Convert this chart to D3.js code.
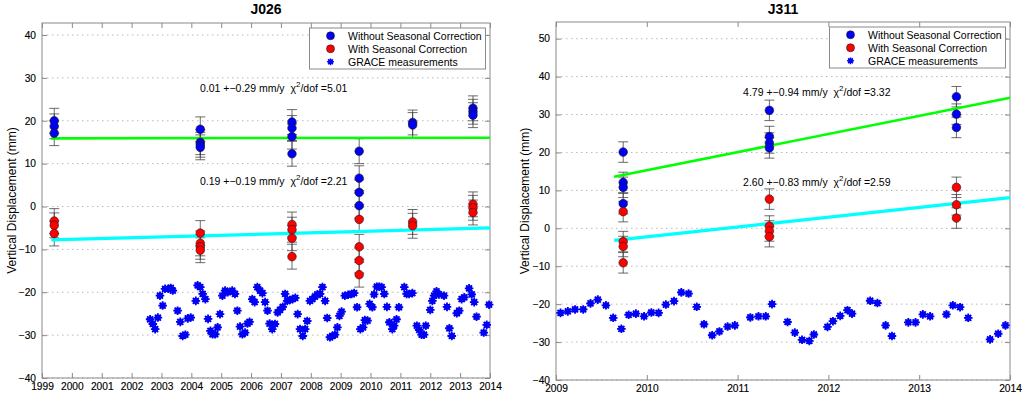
<!DOCTYPE html>
<html>
<head>
<meta charset="utf-8">
<script src="https://cdn.jsdelivr.net/npm/d3@7"></script>
<style>
body { margin: 0; background: #fff; }
svg { font-family: "Liberation Sans", Arial, Helvetica, sans-serif; }
</style>
</head>
<body>
<svg id="chart" width="1024" height="398"></svg>
<script>
// ---- data ----
var J026_EPOCHS = [1999.41, 2004.30, 2007.37, 2009.62, 2011.41, 2013.43];
var J026_WITHOUT = [[20.0, 18.7, 17.1], [18.0, 15.0, 14.4, 13.8], [19.7, 18.3, 16.3, 12.3],
					[12.9, 6.6, 3.3, 0.2], [19.6, 19.0], [22.9, 22.1, 21.3]];
var J026_WITH = [[-3.4, -4.4, -6.3], [-6.2, -8.6, -9.4, -10.2], [-4.2, -5.4, -7.4, -11.7],
				[-3.0, -9.4, -12.6, -15.9], [-3.6, -4.5], [0.5, -0.3, -1.4]];
var J026_ERR = 2.9;
var J026_FIT_WITHOUT = [[1999.31, 15.9], [2014, 16.05]];
var J026_FIT_WITH = [[1999.31, -7.8], [2014, -5.0]];
var J026_GRACE = [
	[2002.62,-26.3],[2002.71,-27.4],[2002.79,-28.6],[2002.88,-25.9],[2002.95,-20.8],[2003.04,-23.1],
	[2003.12,-19.2],[2003.23,-19.2],[2003.31,-19.0],[2003.38,-19.6],[2003.54,-24.3],[2003.63,-26.9],
	[2003.71,-30.2],[2003.80,-29.9],[2003.88,-26.1],[2003.98,-25.9],[2004.15,-22.0],[2004.21,-18.4],
	[2004.30,-18.8],[2004.38,-20.4],[2004.47,-21.6],[2004.56,-26.2],[2004.64,-29.0],[2004.71,-29.8],
	[2004.80,-29.8],[2004.88,-28.2],[2004.96,-25.1],[2005.04,-20.8],[2005.13,-19.6],[2005.22,-20.0],
	[2005.37,-19.6],[2005.46,-20.4],[2005.54,-24.3],[2005.63,-28.0],[2005.71,-29.8],[2005.80,-29.4],
	[2005.88,-27.3],[2005.95,-26.9],[2006.04,-21.6],[2006.12,-22.3],[2006.21,-18.8],[2006.30,-19.6],
	[2006.38,-20.2],[2006.47,-22.3],[2006.55,-24.3],[2006.62,-27.3],[2006.71,-28.6],[2006.80,-27.4],
	[2006.89,-24.7],[2006.97,-24.1],[2007.06,-23.4],[2007.14,-20.4],[2007.21,-22.0],[2007.30,-21.8],
	[2007.39,-21.6],[2007.48,-21.3],[2007.56,-25.1],[2007.64,-28.6],[2007.73,-30.2],[2007.81,-28.6],
	[2007.88,-26.7],[2007.97,-22.0],[2008.05,-21.6],[2008.14,-21.0],[2008.22,-20.5],[2008.31,-20.4],
	[2008.39,-18.8],[2008.48,-22.0],[2008.55,-26.0],[2008.64,-30.5],[2008.72,-30.2],[2008.81,-29.9],
	[2008.89,-28.2],[2008.96,-25.5],[2009.03,-24.5],[2009.14,-20.8],[2009.25,-20.6],[2009.37,-20.4],
	[2009.45,-20.2],[2009.55,-23.5],[2009.66,-28.6],[2009.75,-28.2],[2009.81,-26.5],[2009.90,-26.6],
	[2009.97,-22.7],[2010.06,-23.5],[2010.12,-20.5],[2010.21,-18.7],[2010.29,-18.7],[2010.37,-18.8],
	[2010.46,-20.4],[2010.55,-23.4],[2010.63,-27.0],[2010.73,-28.6],[2010.79,-27.8],[2010.87,-26.3],
	[2010.95,-23.5],[2011.13,-18.8],[2011.21,-20.4],[2011.29,-20.4],[2011.40,-20.2],[2011.55,-27.8],
	[2011.63,-28.8],[2011.71,-29.9],[2011.79,-29.9],[2011.85,-27.8],[2012.00,-24.1],[2012.07,-22.0],
	[2012.13,-20.8],[2012.21,-19.8],[2012.29,-20.5],[2012.46,-20.8],[2012.56,-23.4],[2012.64,-28.4],
	[2012.72,-30.2],[2012.89,-24.9],[2012.97,-24.3],[2013.05,-21.6],[2013.14,-21.2],[2013.30,-19.1],
	[2013.39,-20.5],[2013.47,-22.3],[2013.55,-25.7],[2013.79,-29.4],[2013.89,-27.6],[2013.97,-22.9]
];

var J311_EPOCHS = [2009.74, 2011.35, 2013.41];
var J311_WITHOUT = [[20.1, 12.1, 10.8, 6.5], [31.1, 24.2, 22.5, 21.2], [34.7, 30.1, 26.6]];
var J311_WITH = [[4.4, -3.5, -4.8, -9.1], [7.7, 0.6, -0.7, -2.2], [10.8, 6.2, 2.7]];
var J311_ERR = 2.7;
var J311_FIT_WITHOUT = [[2009.64, 13.6], [2014, 34.4]];
var J311_FIT_WITH = [[2009.64, -3.2], [2014, 8.1]];
var J311_GRACE = [
	[2009.05,-22.3],[2009.13,-21.9],[2009.21,-21.4],[2009.30,-21.4],[2009.38,-19.8],[2009.46,-18.8],
	[2009.55,-20.3],[2009.63,-23.6],[2009.72,-26.5],[2009.80,-22.8],[2009.88,-22.5],[2009.97,-23.2],
	[2010.05,-22.2],[2010.13,-22.3],[2010.21,-20.1],[2010.30,-19.2],[2010.38,-16.9],[2010.46,-17.2],
	[2010.55,-20.7],[2010.63,-25.3],[2010.72,-28.2],[2010.80,-27.2],[2010.89,-25.9],[2010.97,-25.6],
	[2011.14,-23.5],[2011.23,-23.2],[2011.31,-23.2],[2011.38,-20.0],[2011.55,-24.7],[2011.63,-27.5],
	[2011.71,-29.4],[2011.79,-29.7],[2011.84,-28.0],[2011.99,-26.0],[2012.05,-24.5],[2012.13,-23.1],
	[2012.21,-21.6],[2012.26,-22.5],[2012.46,-19.1],[2012.54,-19.7],[2012.63,-25.6],[2012.70,-28.4],
	[2012.88,-24.8],[2012.96,-24.8],[2013.04,-22.7],[2013.12,-23.2],[2013.30,-22.7],[2013.37,-20.3],
	[2013.45,-20.8],[2013.54,-23.6],[2013.78,-29.3],[2013.87,-27.8],[2013.95,-25.6]
];

var LEGEND_LABELS = ['Without Seasonal Correction', 'With Seasonal Correction', 'GRACE measurements'];
var J026_RATES = ['0.01 +\u22120.29 mm/y  \u03c7', '0.19 +\u22120.19 mm/y  \u03c7'];
var J026_CHI = ['/dof =5.01', '/dof =2.21'];
var J311_RATES = ['4.79 +\u22120.94 mm/y  \u03c7', '2.60 +\u22120.83 mm/y  \u03c7'];
var J311_CHI = ['/dof =3.32', '/dof =2.59'];

var J026_XTICKS = d3.range(1999, 2015, 1);
var J026_YTICKS = d3.range(-40, 41, 10);
var J311_XTICKS = d3.range(2009, 2015, 1);
var J311_YTICKS = d3.range(-40, 51, 10);

// ---- drawing ----
var svg = d3.select('#chart');

var BLUE = '#0000f5',
	RED = '#ff0000',
	GREEN = '#00ff00',
	CYAN = '#00ffff',
	FRAME = '#8a8a8a';

drawPanel({
	title: 'J026',
	left: 42, right: 490, top: 23, bottom: 378,
	xDomain: [1999, 2014], yDomain: [-40, 42.8],
	xTicks: J026_XTICKS, yTicks: J026_YTICKS,
	epochs: J026_EPOCHS, without: J026_WITHOUT, withCorr: J026_WITH, err: J026_ERR,
	fitWithout: J026_FIT_WITHOUT, fitWith: J026_FIT_WITH,
	grace: J026_GRACE,
	rates: J026_RATES, chi: J026_CHI,
	notePos: [[2004.29, 26.8], [2004.29, 4.9]],
	ylabelX: 16
});

drawPanel({
	title: 'J311',
	left: 556, right: 1010, top: 22, bottom: 380,
	xDomain: [2009, 2014], yDomain: [-40, 54.4],
	xTicks: J311_XTICKS, yTicks: J311_YTICKS,
	epochs: J311_EPOCHS, without: J311_WITHOUT, withCorr: J311_WITH, err: J311_ERR,
	fitWithout: J311_FIT_WITHOUT, fitWith: J311_FIT_WITH,
	grace: J311_GRACE,
	rates: J311_RATES, chi: J311_CHI,
	notePos: [[2011.06, 35.0], [2011.06, 11.1]],
	ylabelX: 529
});

function drawPanel(p) {
	var x = d3.scaleLinear().domain(p.xDomain).range([p.left, p.right]);
	var y = d3.scaleLinear().domain(p.yDomain).range([p.bottom, p.top]);
	var g = svg.append('g');

	// dotted horizontal grid
	g.append('g')
		.selectAll('line')
		.data(p.yTicks)
		.enter()
		.append('line')
		.attr('x1', p.left).attr('x2', p.right)
		.attr('y1', d => y(d)).attr('y2', d => y(d))
		.style('stroke', '#b8b8b8')
		.style('stroke-width', 1)
		.style('stroke-dasharray', '1.5,3.5');

	// axes, ticks pointing inward on all four sides
	g.append('g')
		.attr('transform', 'translate(0,' + p.bottom + ')')
		.call(d3.axisBottom(x).tickValues(p.xTicks).tickFormat(d3.format('d'))
			.tickSize(-5).tickSizeOuter(0).tickPadding(5));
	g.append('g')
		.attr('transform', 'translate(' + p.left + ',0)')
		.call(d3.axisLeft(y).tickValues(p.yTicks).tickSize(-5).tickSizeOuter(0).tickPadding(6));
	g.append('g')
		.attr('transform', 'translate(0,' + p.top + ')')
		.call(d3.axisTop(x).tickValues(p.xTicks).tickFormat('').tickSize(-5).tickSizeOuter(0));
	g.append('g')
		.attr('transform', 'translate(' + p.right + ',0)')
		.call(d3.axisRight(y).tickValues(p.yTicks).tickFormat('').tickSize(-5).tickSizeOuter(0));

	g.selectAll('.domain').remove();
	g.selectAll('.tick line').style('stroke', FRAME);
	g.selectAll('.tick text')
		.style('font-size', '10.2px')
		.style('font-family', '"Liberation Sans", Arial, sans-serif')
		.style('fill', '#000')
		.style('stroke', '#000')
		.style('stroke-width', 0.15);

	g.append('rect')
		.attr('x', p.left).attr('y', p.top)
		.attr('width', p.right - p.left).attr('height', p.bottom - p.top)
		.style('fill', 'none')
		.style('stroke', FRAME)
		.style('stroke-width', 1);

	// GRACE asterisks
	var grace = g.append('g')
		.selectAll('g')
		.data(p.grace)
		.enter()
		.append('g')
		.attr('transform', d => 'translate(' + x(d[0]) + ',' + y(d[1]) + ')');
	grace.append('circle')
		.attr('r', 3.1)
		.style('fill', BLUE);
	grace.append('path')
		.attr('d', 'M-4.3,0H4.3M0,-4.3V4.3M-3,-3L3,3M-3,3L3,-3')
		.style('stroke', BLUE)
		.style('stroke-width', 1.8);

	// flatten epochs x values into points
	function flat(series) {
		var out = [];
		series.forEach(function(vals, i) {
			vals.forEach(function(v) { out.push({ t: p.epochs[i], v: v }); });
		});
		return out;
	}
	var pts = [{ data: flat(p.without), color: BLUE }, { data: flat(p.withCorr), color: RED }];

	// error bars
	pts.forEach(function(s) {
		g.append('g')
			.selectAll('path')
			.data(s.data)
			.enter()
			.append('path')
			.attr('d', function(d) {
				var cx = x(d.t), y0 = y(d.v - p.err), y1 = y(d.v + p.err);
				return 'M' + cx + ',' + y0 + 'V' + y1 +
					'M' + (cx - 5) + ',' + y0 + 'H' + (cx + 5) +
					'M' + (cx - 5) + ',' + y1 + 'H' + (cx + 5);
			})
			.style('fill', 'none')
			.style('stroke', '#3a3a3a')
			.style('stroke-opacity', 0.75)
			.style('stroke-width', 1);
	});

	// fit lines
	var line = d3.line().x(d => x(d[0])).y(d => y(d[1]));
	g.append('path')
		.datum(p.fitWithout)
		.attr('d', line)
		.style('fill', 'none')
		.style('stroke', GREEN)
		.style('stroke-width', 2.6);
	g.append('path')
		.datum(p.fitWith)
		.attr('d', line)
		.style('fill', 'none')
		.style('stroke', CYAN)
		.style('stroke-width', 3.2);

	// station points
	pts.forEach(function(s) {
		g.append('g')
			.selectAll('circle')
			.data(s.data)
			.enter()
			.append('circle')
			.attr('cx', d => x(d.t))
			.attr('cy', d => y(d.v))
			.attr('r', 4.3)
			.style('fill', s.color)
			.style('stroke', '#1a1a1a')
			.style('stroke-width', 0.6);
	});

	// rate annotations
	p.rates.forEach(function(r, i) {
		var t = g.append('text')
			.attr('x', x(p.notePos[i][0]))
			.attr('y', y(p.notePos[i][1]))
			.style('font-size', '10.5px')
			.style('white-space', 'pre')
			.style('fill', '#000');
		t.append('tspan').text(r);
		t.append('tspan').attr('dy', -5).style('font-size', '8px').text('2');
		t.append('tspan').attr('dy', 5).text(p.chi[i]);
	});

	// title
	g.append('text')
		.attr('x', (p.left + p.right) / 2)
		.attr('y', 14)
		.attr('text-anchor', 'middle')
		.style('font-size', '14px')
		.style('font-weight', 'bold')
		.text(p.title);

	// y label
	g.append('text')
		.attr('transform', 'translate(' + p.ylabelX + ',' + ((p.top + p.bottom) / 2) + ') rotate(-90)')
		.attr('text-anchor', 'middle')
		.style('font-size', '12px')
		.text('Vertical Displacement (mm)');

	// legend
	var lw = 176, lh = 41;
	var lg = g.append('g')
		.attr('transform', 'translate(' + (p.right - 4.5 - lw) + ',' + (p.top + 5) + ')');
	lg.append('rect')
		.attr('width', lw).attr('height', lh)
		.style('fill', '#fff')
		.style('stroke', FRAME)
		.style('stroke-width', 1);
	var rows = lg.selectAll('g.row')
		.data(LEGEND_LABELS)
		.enter()
		.append('g')
		.attr('class', 'row')
		.attr('transform', (d, i) => 'translate(0,' + (7.8 + i * 13) + ')');
	rows.append('text')
		.attr('x', 38.5)
		.attr('y', 3.8)
		.style('font-size', '10.5px')
		.text(d => d);
	rows.filter((d, i) => i < 2)
		.append('circle')
		.attr('cx', 21)
		.attr('r', 4)
		.style('fill', (d, i) => i === 0 ? BLUE : RED)
		.style('stroke', '#1a1a1a')
		.style('stroke-width', 0.6);
	var lgStar = rows.filter((d, i) => i === 2);
	lgStar.append('circle').attr('cx', 21).attr('r', 2.4).style('fill', BLUE);
	lgStar.append('path')
		.attr('d', 'M17.6,0H24.4M21,-3.4V3.4M18.6,-2.4L23.4,2.4M18.6,2.4L23.4,-2.4')
		.style('stroke', BLUE)
		.style('stroke-width', 1.5);
}
</script>
</body>
</html>
